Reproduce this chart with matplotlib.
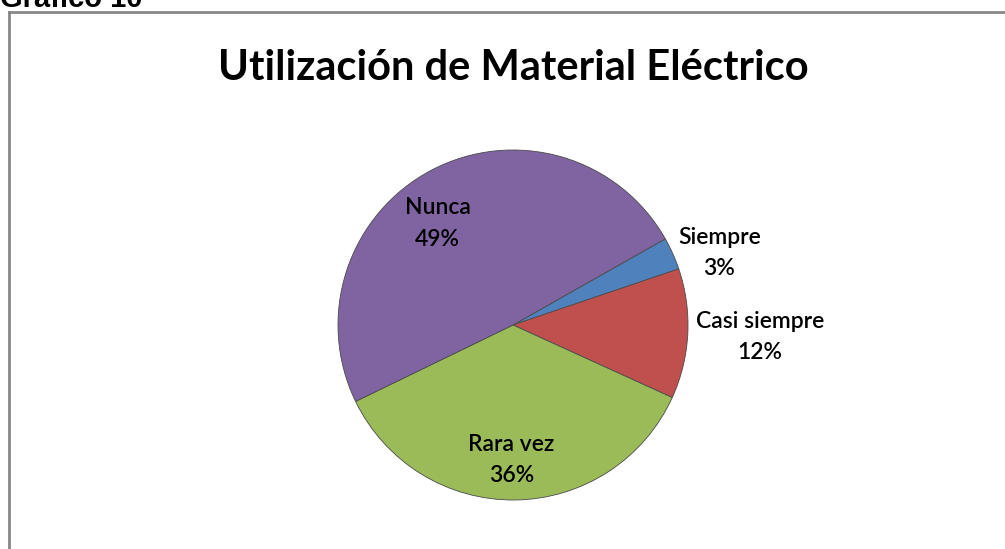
import matplotlib
matplotlib.use("Agg")
import matplotlib.pyplot as plt
from matplotlib.lines import Line2D

# data
categories = ["Siempre", "Casi siempre", "Rara vez", "Nunca"]
percents = [3, 12, 36, 49]
slice_colors = ["#4F81BD", "#C0504D", "#9BBB59", "#8064A2"]

title = "Utilización de Material Eléctrico"
caption = "Gráfico 10"

# label placement (axes units, pie radius = 1), Excel "best fit" look
label_pos = [(1.18, 0.41), (1.41, -0.07), (-0.01, -0.77), (-0.43, 0.58)]

W, H = 1005, 549
fig = plt.figure(figsize=(W / 100, H / 100), dpi=100)

# chart border (only left and top visible in the crop)
fig.add_artist(Line2D([9 / W, 9 / W], [0, 1 - 12 / H], color="#888888", lw=2, transform=fig.transFigure))
fig.add_artist(Line2D([9 / W, 1], [1 - 12 / H, 1 - 12 / H], color="#888888", lw=2, transform=fig.transFigure))

fig.text(0 / W, 1 - 7 / H, caption, fontsize=21, fontweight="bold", family="Liberation Sans",
         ha="left", va="baseline")

fig.text(513 / W, 1 - 80 / H, title, fontsize=30, fontweight="bold", family="Lato",
         ha="center", va="baseline")

cx, cy, r = 513, 325, 175
ax = fig.add_axes([(cx - r) / W, (H - cy - r) / H, 2 * r / W, 2 * r / H])
wedges, _ = ax.pie(percents, colors=slice_colors, startangle=29.5, counterclock=False,
                   radius=1, wedgeprops=dict(edgecolor="#4a4a4a", linewidth=0.6))
ax.set_xlim(-1, 1)
ax.set_ylim(-1, 1)
ax.set_aspect("auto")
ax.axis("off")

for cat, p, (lx, ly) in zip(categories, percents, label_pos):
    ax.text(lx, ly, f"{cat}\n{p}%", ha="center", va="center", fontsize=16.5,
            family="Lato", fontweight="semibold", linespacing=1.6, clip_on=False)

fig.savefig("out.png", dpi=100)
